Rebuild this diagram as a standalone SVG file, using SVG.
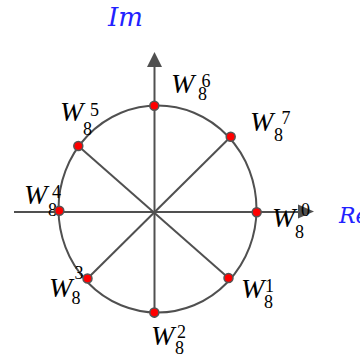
<svg xmlns="http://www.w3.org/2000/svg" width="360" height="355" viewBox="0 0 360 355">
<style>
.ln{stroke:#505050;stroke-width:2;fill:none}
.ah{fill:#505050;stroke:none}
.dot{fill:#ff0000;stroke:#555555;stroke-width:1.5}
.w{font-family:"Liberation Serif",serif;font-style:italic;font-size:28px;fill:#000}
.d{font-family:"Liberation Serif",serif;font-size:18px;fill:#000}
.ax{font-family:"DejaVu Serif",serif;font-style:italic;fill:#2222ff}
</style>
<rect width="360" height="355" fill="#ffffff"/>
<g id="connectors">
<line class="ln" x1="14" y1="212" x2="300" y2="212"/>
<polygon class="ah" points="314,211.5 298,204.5 298,218.5"/>
<line class="ln" x1="154.5" y1="318" x2="154.5" y2="65"/>
<polygon class="ah" points="154.5,52 147,67 162,67"/>
<line class="ln" x1="78.3" y1="146" x2="228.5" y2="278"/>
<line class="ln" x1="230.7" y1="136.7" x2="87.5" y2="278.5"/>
</g>
<g id="circle">
<ellipse class="ln" cx="157.5" cy="209" rx="99" ry="103.5"/>
</g>
<g id="axis-im"><text class="ax" x="108" y="26" font-size="26">Im</text></g>
<g id="axis-re"><text class="ax" x="339" y="223" font-size="22">Re</text></g>
<g id="w6"><text class="w" x="171" y="93">W</text><text class="d" x="198" y="99.5">8</text><text class="d" x="201.5" y="86.5">6</text></g>
<g id="w7"><text class="w" x="250" y="131">W</text><text class="d" x="274" y="141">8</text><text class="d" x="281.5" y="123.5">7</text></g>
<g id="w0"><text class="w" x="272" y="227">W</text><text class="d" x="295" y="238">8</text><text class="d" x="301" y="216">0</text></g>
<g id="w5"><text class="w" x="60" y="121">W</text><text class="d" x="83" y="135">8</text><text class="d" x="90" y="116">5</text></g>
<g id="w4"><text class="w" x="24" y="203.5">W</text><text class="d" x="48" y="215.5">8</text><text class="d" x="52" y="197.5">4</text></g>
<g id="w3"><text class="w" x="49" y="296.5">W</text><text class="d" x="71.5" y="303.5">8</text><text class="d" x="74.5" y="278.5">3</text></g>
<g id="w1"><text class="w" x="241" y="297.5">W</text><text class="d" x="264" y="307.5">8</text><text class="d" x="265" y="291.5">1</text></g>
<g id="w2"><text class="w" x="151" y="345">W</text><text class="d" x="175" y="354">8</text><text class="d" x="177" y="338">2</text></g>
<g id="dots">
<circle class="dot" cx="154.3" cy="105.7" r="4.5"/>
<circle class="dot" cx="230.7" cy="136.7" r="4.5"/>
<circle class="dot" cx="256.7" cy="212.3" r="4.5"/>
<circle class="dot" cx="228.5" cy="278" r="4.5"/>
<circle class="dot" cx="154.3" cy="312.5" r="4.5"/>
<circle class="dot" cx="87.5" cy="278.5" r="4.5"/>
<circle class="dot" cx="59.3" cy="210.7" r="4.5"/>
<circle class="dot" cx="78.3" cy="146" r="4.5"/>
</g>
</svg>
